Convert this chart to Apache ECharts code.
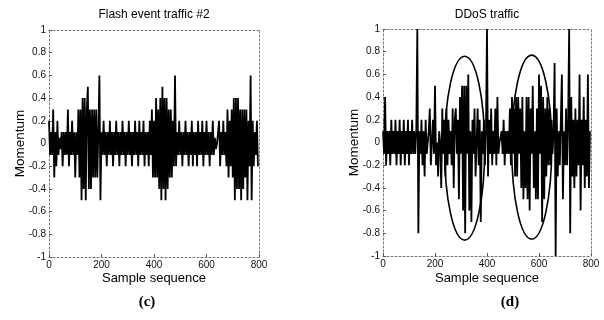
<!DOCTYPE html>
<html><head><meta charset="utf-8">
<script src="https://cdn.jsdelivr.net/npm/echarts@6/dist/echarts.min.js"></script>
<style>html,body{margin:0;padding:0;background:#fff}#c{width:604px;height:320px}</style>
</head><body><div id="c"></div>
<script>
// sample spacing (sample sequence step between listed values)
const STEP = 4;
const xTicks = [0, 200, 400, 600, 800];
const yTicks = [-1, -0.8, -0.6, -0.4, -0.2, 0, 0.2, 0.4, 0.6, 0.8, 1];

// (c) Flash event traffic #2 — momentum per sample (every 4th sample)
const flashMomentum = [
  0.2,-0.1,0.1,-0.1,0.3,-0.3,0.1,-0.2,0.2,-0.1,
  0.05,-0.05,0.1,-0.2,0.1,-0.1,0.1,-0.1,0.3,-0.2,
  0.1,-0.1,0.2,-0.1,0.1,-0.3,0.1,-0.1,0.3,-0.3,
  0.3,-0.5,0.4,-0.4,0.4,-0.5,0.3,0.5,-0.4,0.3,
  -0.4,0.3,-0.3,0.3,-0.3,0.3,-0.3,0.1,0.6,-0.5,
  0.1,-0.1,0.2,-0.1,0.1,-0.2,0.1,-0.1,0.2,-0.1,
  0.1,-0.2,0.1,-0.1,0.2,-0.1,0.1,-0.2,0.1,-0.1,
  0.2,-0.1,0.1,-0.2,0.1,-0.1,0.2,-0.1,0.1,-0.2,
  0.1,-0.1,0.2,-0.1,0.1,-0.2,0.2,-0.1,0.1,-0.1,
  0.2,-0.2,0.1,-0.1,0.1,-0.2,0.2,-0.1,0.3,-0.3,
  0.2,-0.3,0.4,-0.3,0.3,-0.4,0.4,-0.5,0.5,-0.4,
  0.4,-0.5,0.4,-0.4,0.3,-0.3,0.3,-0.3,0.2,-0.2,
  0.6,-0.2,0.1,-0.1,0.2,-0.1,0.1,-0.2,0.1,-0.1,
  0.2,-0.1,0.1,-0.2,0.1,-0.1,0.2,-0.2,0.1,-0.1,
  0.1,-0.2,0.2,-0.1,0.1,-0.1,0.2,-0.2,0.1,-0.1,
  0.2,-0.1,0.1,-0.2,0.1,-0.1,0.2,-0.1,0.05,-0.05,
  0.0,0.0,0.2,-0.2,0.1,-0.1,0.2,-0.1,0.1,-0.2,
  0.3,-0.3,0.2,-0.2,0.3,-0.3,0.4,-0.5,0.4,-0.4,
  0.4,-0.4,0.3,-0.5,0.3,-0.4,0.3,-0.3,0.3,-0.5,
  0.2,-0.2,0.6,-0.5,0.2,-0.2,0.1,-0.1,0.2,-0.2
];

// (d) DDoS traffic — momentum per sample (every 4th sample)
const ddosMomentum = [
  0.1,-0.1,0.4,-0.2,0.1,-0.1,0.1,-0.2,0.2,-0.1,
  0.1,-0.1,0.2,-0.2,0.1,-0.1,0.2,-0.2,0.1,-0.1,
  0.2,-0.2,0.1,-0.1,0.2,-0.2,0.1,-0.1,0.2,-0.1,
  0.1,-0.1,0.1,1.0,-0.8,0.1,-0.1,0.2,-0.2,0.1,
  -0.3,0.2,-0.1,0.0,0.1,0.3,-0.2,0.0,0.2,-0.1,
  0.5,-0.2,0.0,-0.3,0.1,0.0,-0.4,0.3,-0.1,0.2,
  -0.3,0.3,-0.2,0.2,-0.1,0.1,-0.2,0.3,-0.4,0.2,
  0.3,-0.1,0.2,-0.5,0.4,-0.1,0.5,-0.6,0.5,-0.8,
  0.5,-0.1,0.6,-0.6,0.1,-0.7,0.2,-0.1,0.3,-0.3,
  -0.3,0.3,-0.2,0.2,-0.7,0.1,-0.1,0.2,-0.2,0.1,
  1.0,-0.3,0.2,-0.1,0.3,-0.2,0.1,-0.1,0.3,-0.2,
  0.4,-0.1,0.0,0.0,0.1,-0.1,0.2,-0.2,0.1,-0.1,
  0.1,-0.1,0.3,-0.2,0.4,-0.1,0.3,-0.3,0.4,-0.3,
  0.4,-0.1,0.3,-0.4,0.4,-0.5,0.1,-0.4,0.4,-0.5,
  0.4,-0.6,0.3,-0.1,0.5,-0.4,0.1,-0.5,0.3,-0.5,
  0.6,-0.1,0.5,-0.7,0.4,-0.5,0.3,-0.3,0.4,-0.2,
  0.3,-0.2,0.2,-0.1,0.1,0.7,-1.0,0.3,-0.3,0.1,
  -0.2,0.2,0.6,-0.5,0.1,-0.2,0.3,-0.2,0.2,1.0,
  -0.8,0.4,-0.3,0.2,-0.4,0.3,-0.3,0.2,-0.2,0.6,
  -0.6,0.2,-0.2,0.4,-0.4,0.2,-0.3,0.6,-0.4,0.1
];

// circled regions in (d): [center sample, center momentum, half-width, half-height]
const ddosCircles = [
  [314, -0.05, 77, 0.81],
  [572, -0.04, 77, 0.81]
];

const titles = ['Flash event traffic #2', 'DDoS traffic'];
const panelLabels = ['(c)', '(d)'];
const xName = 'Sample sequence';
const yName = 'Momentum';

const FONT = '"Liberation Sans", Arial, Helvetica, sans-serif';
const grids = [
  {left: 49, top: 30, width: 210, height: 227},
  {left: 383, top: 29, width: 208, height: 227}
];

function toPairs(arr){ return arr.map((v,i)=>[i*STEP, v]); }

const frameLine = {show:true, onZero:false, lineStyle:{color:'#777', type:[2,2], width:1}};
const xAxes = [], yAxes = [];
grids.forEach((g, gi) => {
  xAxes.push({
    gridIndex: gi, type:'value', min: xTicks[0], max: xTicks[xTicks.length-1], interval: 200,
    axisLine: frameLine, splitLine:{show:false},
    axisTick:{show:true, inside:true, length:3, lineStyle:{color:'#555'}},
    axisLabel:{fontSize:10, color:'#111', margin:3, fontFamily:FONT}
  });
  xAxes.push({
    gridIndex: gi, type:'value', position:'top', min: 0, max: 800, interval: 200,
    axisLine: frameLine, splitLine:{show:false}, axisTick:{show:false}, axisLabel:{show:false}
  });
  yAxes.push({
    gridIndex: gi, type:'value', min: yTicks[0], max: yTicks[yTicks.length-1], interval: 0.2,
    axisLine: frameLine, splitLine:{show:false},
    axisTick:{show:true, inside:true, length:3, lineStyle:{color:'#555'}},
    axisLabel:{fontSize:10, color:'#111', margin:3, fontFamily:FONT}
  });
  yAxes.push({
    gridIndex: gi, type:'value', position:'right', min: -1, max: 1, interval: 0.2,
    axisLine: frameLine, splitLine:{show:false}, axisTick:{show:false}, axisLabel:{show:false}
  });
});

const graphics = [];
grids.forEach((g, gi) => {
  const cx = g.left + g.width/2;
  graphics.push({type:'text', style:{text: titles[gi], font: '12px ' + FONT, fill:'#000', textAlign:'center', textVerticalAlign:'middle'}, position:[cx, 15]});
  graphics.push({type:'text', style:{text: xName, font:'13px ' + FONT, fill:'#000', textAlign:'center', textVerticalAlign:'middle'}, position:[cx, 278]});
  graphics.push({type:'text', style:{text: yName, font:'13.5px ' + FONT, fill:'#000', textAlign:'center', textVerticalAlign:'middle'}, position:[g.left - 29, g.top + g.height/2], rotation: Math.PI/2});
  graphics.push({type:'text', style:{text: panelLabels[gi], font:'bold 15px "Liberation Serif", "Times New Roman", serif', fill:'#000', textAlign:'center', textVerticalAlign:'middle'}, position:[cx - 7 + gi*30, 302]});
});

const chart = echarts.init(document.getElementById('c'), null, {renderer:'canvas'});
chart.setOption({
  animation:false,
  backgroundColor:'#fff',
  grid: grids,
  xAxis: xAxes,
  yAxis: yAxes,
  graphic: graphics,
  series: [
    {type:'line', xAxisIndex:0, yAxisIndex:0, data: toPairs(flashMomentum), showSymbol:false, symbol:'none',
     lineStyle:{color:'#000', width:1.8}, silent:true},
    {type:'line', xAxisIndex:2, yAxisIndex:2, data: toPairs(ddosMomentum), showSymbol:false, symbol:'none',
     lineStyle:{color:'#000', width:1.8}, silent:true},
    {type:'custom', xAxisIndex:2, yAxisIndex:2, data: ddosCircles, silent:true, clip:false,
     renderItem: function(params, api){
       const c = api.coord([api.value(0), api.value(1)]);
       const s = api.size([api.value(2), api.value(3)]);
       return {type:'ellipse', shape:{cx:c[0], cy:c[1], rx:s[0], ry:s[1]}, style:{fill:null, stroke:'#000', lineWidth:1.6}};
     }}
  ]
});
</script>
</body></html>
